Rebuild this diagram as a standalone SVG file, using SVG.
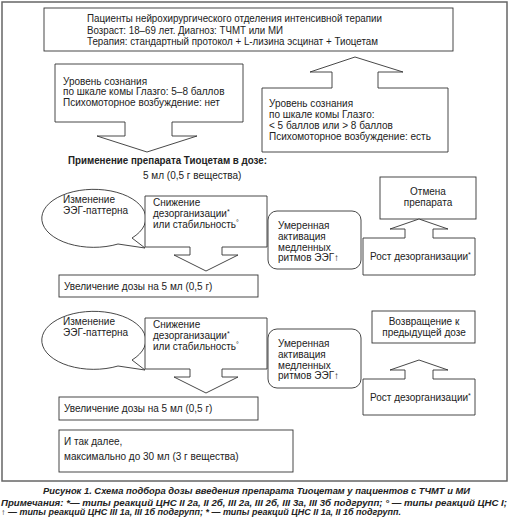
<svg xmlns="http://www.w3.org/2000/svg" width="510" height="518" viewBox="0 0 510 518">
<style>
.s{fill:#fff;stroke:#333;stroke-width:0.9}
text{font-family:"Liberation Sans",Arial,sans-serif;font-size:10px;fill:#222}
.b{font-weight:bold}
.c{text-anchor:middle}
.cap{font-weight:bold;font-style:italic;font-size:9.5px}
.note{font-weight:bold;font-style:italic;font-size:8.3px}
.sup{font-size:7px}
</style>
<rect width="510" height="518" fill="#fff"/>
<rect x="2" y="2" width="505" height="479" fill="none" stroke="#666" stroke-width="1.5"/>

<g id="patients">
<rect class="s" x="44" y="8" width="409" height="43"/>
<text x="87" y="22" textLength="295" lengthAdjust="spacingAndGlyphs">Пациенты нейрохирургического отделения интенсивной терапии</text>
<text x="87" y="33.5" textLength="196" lengthAdjust="spacingAndGlyphs">Возраст: 18–69 лет. Диагноз: ТЧМТ или МИ</text>
<text x="87" y="45" textLength="291" lengthAdjust="spacingAndGlyphs">Терапия: стандартный протокол + L-лизина эсцинат + Тиоцетам</text>
</g>

<g id="glasgow-ok">
<path class="s" d="M55,64 H243 V122 H172 V136 H197 L147,152 L97,136 H125 V122 H55 Z"/>
<text x="63" y="84.5">Уровень сознания</text>
<text x="63" y="95">по шкале комы Глазго: 5–8 баллов</text>
<text x="63" y="105.5">Психомоторное возбуждение: нет</text>
</g>

<g id="glasgow-other">
<path class="s" d="M262,88 H332 V72 H310 L355,57 L403,72 H378 V88 H448 V152 H262 Z"/>
<text x="269" y="106.5">Уровень сознания</text>
<text x="269" y="117.5">по шкале комы Глазго:</text>
<text x="269" y="129">&lt; 5 баллов или &gt; 8 баллов</text>
<text x="269" y="140">Психомоторное возбуждение: есть</text>
</g>

<g id="dose-title">
<text class="b" x="68" y="163.5" textLength="199" lengthAdjust="spacingAndGlyphs">Применение препарата Тиоцетам в дозе:</text>
<text x="143" y="178.5">5 мл (0,5 г вещества)</text>
</g>

<g id="eeg-change-1">
<path class="s" d="M132,238 A52,29 0 1 0 118,244 L145,248 Z"/>
<text x="63" y="203">Изменение</text>
<text x="63" y="214">ЭЭГ-паттерна</text>
</g>

<g id="decrease-1">
<path class="s" d="M145,196 H267 V247 H222 V255 H238 L206,271 L174,255 H190 V247 H145 Z"/>
<text x="153" y="206">Снижение</text>
<text x="153" y="217">дезорганизации<tspan class="sup" dy="-3">*</tspan></text>
<text x="153" y="228">или стабильность<tspan class="sup" dy="-3">°</tspan></text>
</g>

<g id="increase-1">
<rect class="s" x="59" y="275" width="199" height="22"/>
<text x="64" y="289.5">Увеличение дозы на 5 мл (0,5 г)</text>
</g>

<g id="slow-1">
<rect class="s" x="268" y="211" width="93" height="58" rx="9"/>
<text x="278" y="228.5">Умеренная</text>
<text x="278" y="239.5">активация</text>
<text x="278" y="250.5">медленных</text>
<text x="278" y="261">ритмов ЭЭГ↑</text>
</g>

<g id="cancel">
<rect class="s" x="380" y="177" width="96" height="42"/>
<text class="c" x="428" y="195">Отмена</text>
<text class="c" x="428" y="206">препарата</text>
</g>

<g id="growth-1">
<path class="s" d="M363,238 H405 V229 H390 L419,219 L448,229 H433 V238 H475 V275 H363 Z"/>
<text x="370" y="260">Рост дезорганизации<tspan class="sup" dy="-3">*</tspan></text>
</g>

<g id="eeg-change-2">
<path class="s" d="M132,360 A52,29 0 1 0 118,366 L145,370 Z"/>
<text x="63" y="325">Изменение</text>
<text x="63" y="336">ЭЭГ-паттерна</text>
</g>

<g id="decrease-2">
<path class="s" d="M145,318 H267 V369 H222 V377 H238 L206,393 L174,377 H190 V369 H145 Z"/>
<text x="153" y="328">Снижение</text>
<text x="153" y="339">дезорганизации<tspan class="sup" dy="-3">*</tspan></text>
<text x="153" y="350">или стабильность<tspan class="sup" dy="-3">°</tspan></text>
</g>

<g id="increase-2">
<rect class="s" x="59" y="397" width="199" height="23"/>
<text x="64" y="412">Увеличение дозы на 5 мл (0,5 г)</text>
</g>

<g id="slow-2">
<rect class="s" x="268" y="329" width="93" height="59" rx="9"/>
<text x="278" y="346.5">Умеренная</text>
<text x="278" y="357.5">активация</text>
<text x="278" y="368.5">медленных</text>
<text x="278" y="379">ритмов ЭЭГ↑</text>
</g>

<g id="return">
<rect class="s" x="372" y="311" width="103" height="32"/>
<text class="c" x="424" y="325">Возвращение к</text>
<text class="c" x="424" y="336">предыдущей дозе</text>
</g>

<g id="growth-2">
<path class="s" d="M363,379 H405 V370 H390 L419,360 L448,370 H433 V379 H475 V415 H363 Z"/>
<text x="370" y="401">Рост дезорганизации<tspan class="sup" dy="-3">*</tspan></text>
</g>

<g id="etc">
<rect class="s" x="59" y="430" width="234" height="42"/>
<text x="64" y="444.5">И так далее,</text>
<text x="64" y="460">максимально до 30 мл (3 г вещества)</text>
</g>

<g id="connectors"></g>

<text class="cap" x="43" y="494" textLength="427" lengthAdjust="spacingAndGlyphs">Рисунок 1. Схема подбора дозы введения препарата Тиоцетам у пациентов с ТЧМТ и МИ</text>
<text class="note" x="1" y="506" textLength="506" lengthAdjust="spacingAndGlyphs">Примечания: *— типы реакций ЦНС II 2а, II 2б, III 2а, III 2б, III 3а, III 3б подгрупп; ° — типы реакций ЦНС I;</text>
<text class="note" x="1" y="515" textLength="400" lengthAdjust="spacingAndGlyphs">↑ — типы реакций ЦНС III 1а, III 1б подгрупп; * — типы реакций ЦНС II 1а, II 1б подгрупп.</text>
</svg>
